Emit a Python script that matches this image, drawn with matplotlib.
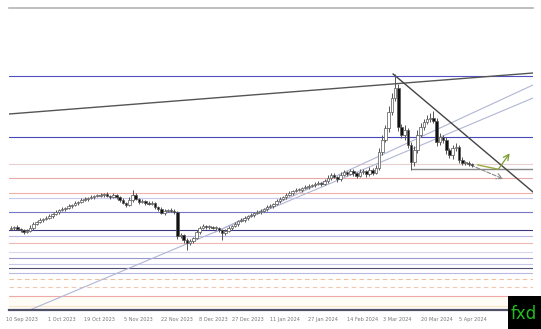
import matplotlib
matplotlib.use('Agg')
import matplotlib.pyplot as plt
from matplotlib.patches import Rectangle

# daily closes (price units), open = previous close
first_open = 91
closes = [92, 93, 91, 90, 88, 89, 92, 96, 98, 100,
          101, 102, 104, 106, 108, 110, 111, 112, 114, 115,
          117, 118, 120, 121, 122, 123, 124, 124, 125, 126,
          124, 123, 125, 123, 120, 117, 115, 120, 125, 121,
          118, 119, 117, 116, 117, 113, 111, 107, 109, 110,
          109, 108, 84, 85, 80, 77, 79, 82, 88, 92,
          94, 93, 93, 92, 92, 90, 87, 89, 92, 94,
          96, 99, 100, 102, 104, 105, 107, 108, 109, 111,
          113, 114, 116, 119, 121, 123, 125, 127, 129, 130,
          130, 132, 133, 134, 135, 136, 137, 136, 139, 142,
          145, 143, 141, 145, 148, 146, 149, 147, 144, 148,
          149, 146, 150, 147, 152, 168, 180, 192, 208, 222,
          232, 193, 185, 190, 175, 158, 170, 185, 193, 198,
          201, 202, 199, 178, 183, 180, 170, 165, 172, 173,
          160, 157, 157, 156, 155]
wick_up = [2, 1, 2, 1, 1, 2, 3, 2, 1, 2,
           1, 2, 2, 1, 2, 1, 2, 1, 2, 1,
           2, 1, 2, 2, 1, 2, 1, 2, 2, 1,
           2, 1, 2, 1, 1, 2, 1, 3, 5, 2,
           1, 2, 1, 2, 2, 1, 1, 2, 2, 1,
           2, 2, 1, 2, 1, 2, 2, 1, 2, 2,
           2, 1, 2, 1, 2, 1, 1, 2, 2, 1,
           2, 1, 2, 2, 1, 2, 1, 2, 2, 1,
           2, 2, 1, 2, 2, 1, 2, 2, 1, 2,
           2, 1, 2, 2, 1, 2, 2, 1, 2, 3,
           2, 2, 1, 3, 2, 1, 2, 2, 1, 3,
           2, 1, 3, 2, 3, 4, 5, 3, 6, 5,
           14, 4, 3, 5, 2, 3, 4, 5, 4, 3,
           4, 5, 7, 3, 4, 2, 3, 2, 3, 4,
           2, 3, 2, 2, 1]
wick_dn = [1, 2, 1, 2, 2, 1, 1, 2, 1, 1,
           2, 1, 1, 2, 1, 2, 1, 2, 1, 2,
           1, 2, 1, 1, 2, 1, 2, 1, 1, 2,
           1, 2, 1, 2, 2, 1, 2, 1, 2, 1,
           2, 1, 2, 1, 1, 2, 2, 1, 2, 1,
           1, 2, 3, 2, 3, 7, 2, 2, 1, 2,
           1, 2, 2, 1, 2, 2, 7, 2, 1, 2,
           1, 2, 1, 2, 2, 1, 2, 1, 2, 1,
           2, 1, 2, 1, 2, 1, 2, 1, 2, 1,
           1, 2, 1, 2, 1, 2, 1, 2, 1, 2,
           2, 1, 3, 2, 1, 2, 1, 3, 2, 1,
           2, 3, 2, 2, 1, 2, 3, 2, 4, 3,
           3, 4, 3, 5, 3, 8, 4, 3, 2, 3,
           2, 3, 2, 4, 3, 3, 4, 3, 4, 3,
           3, 2, 2, 2, 2]

tick_pos = [3.5, 15.9, 27.8, 39.7, 51.9, 63.1, 74.1, 85.6, 97.5, 109.7, 120.6, 133.1, 144.4]
tick_labels = ["10 Sep 2023", "1 Oct 2023", "19 Oct 2023", "5 Nov 2023", "22 Nov 2023",
               "8 Dec 2023", "27 Dec 2023", "11 Jan 2024", "27 Jan 2024", "14 Feb 2024",
               "3 Mar 2024", "20 Mar 2024", "5 Apr 2024"]

# horizontal support / resistance levels
levels = [244, 183, 156, 142, 127, 122, 108, 90, 84, 77, 68, 62, 56, 52, 47, 41, 33, 24, 14]
level_colors = ['#5050c0', '#4848b8', '#e8d0d0', '#eaa8a8', '#eeb0a8', '#c8c8ee', '#7878c8',
                '#383880', '#b8b8e8', '#f0b8b0', '#d8d8ee', '#9898d0', '#c8c8e8', '#505070',
                '#b8b8e0', '#f0c0a0', '#f0c8b0', '#f0a8a8', '#f5e6cc']
level_dash = [15, 16]  # indexes of dashed levels

# drawn trend lines (x in candle index, y in price)
long_line = ([-0.6, 163.1], [206, 247])
down_line = ([119.4, 163.1], [246, 128])
chan_low = ([5.9, 163.1], [10, 222])
chan_high = ([63.8, 163.1], [88, 235])
support = ([125.3, 163.1], [151, 151])
green_line = ([145.9, 151.9], [155, 151])
green_arrow = ([151.9, 156.3], [149, 169])
dash_arrow = ([142.8, 154.6], [156, 140])

fig = plt.figure(figsize=(5.41, 3.29), dpi=100)
ax = fig.add_axes([9 / 541, 19 / 329, 524 / 541, 302 / 329])
ax.set_xlim(-0.6, 163.1)
ax.set_ylim(10, 312)

ax.axhspan(10, 24, color='#fffcf5', lw=0)
for i, (lv, c) in enumerate(zip(levels, level_colors)):
    ls = (0, (4, 3)) if i in level_dash else '-'
    ax.axhline(lv, color=c, lw=0.8, ls=ls, zorder=1)

for xs, ys in [chan_low, chan_high]:
    ax.plot(xs, ys, color='#b0b6d4', lw=0.8, zorder=2)
ax.plot(*long_line, color='#555555', lw=1.0, zorder=2)
ax.plot(*down_line, color='#444444', lw=1.0, zorder=4)
ax.plot(*support, color='#888888', lw=1.0, zorder=2)
ax.plot(*green_line, color='#9aaa40', lw=1.0, zorder=4)
ax.annotate('', xy=(dash_arrow[0][1], dash_arrow[1][1]), xytext=(dash_arrow[0][0], dash_arrow[1][0]),
            arrowprops=dict(arrowstyle='->', color='#888888', lw=0.8, ls='--'), zorder=4)
ax.annotate('', xy=(green_arrow[0][1], green_arrow[1][1]), xytext=(green_arrow[0][0], green_arrow[1][0]),
            arrowprops=dict(arrowstyle='->', color='#7a9a30', lw=0.9), zorder=4)

# candles
opens = [first_open] + closes[:-1]
for i, (o, c) in enumerate(zip(opens, closes)):
    hi = max(o, c) + wick_up[i]
    lo = min(o, c) - wick_dn[i]
    ax.vlines(i, lo, hi, color='#555555', lw=0.7, zorder=5)
    h = max(abs(c - o), 0.6)
    face = '#111111' if c < o else 'white'
    ax.add_patch(Rectangle((i - 0.4, min(o, c)), 0.8, h, facecolor=face,
                           edgecolor='#555555', lw=0.5, zorder=6))

for s in ['left', 'right']:
    ax.spines[s].set_visible(False)
ax.spines['top'].set_color('#b4b4b4')
ax.spines['top'].set_linewidth(1.2)
ax.spines['bottom'].set_color('#505068')
ax.spines['bottom'].set_linewidth(1.6)
ax.set_yticks([])
ax.set_xticks(tick_pos)
ax.set_xticklabels(tick_labels, fontsize=3.6, color='#777777')
ax.tick_params(axis='x', length=0, pad=5)

# logo box at bottom right
fig.patches.append(Rectangle((508 / 541, 0), 33 / 541, 33 / 329, transform=fig.transFigure,
                             facecolor='black', edgecolor='none', zorder=10))
fig.text(511 / 541, 15 / 329, 'fxd', color='#22bb22', fontsize=12, va='center', ha='left', zorder=11)

fig.savefig('out.png', dpi=100)
